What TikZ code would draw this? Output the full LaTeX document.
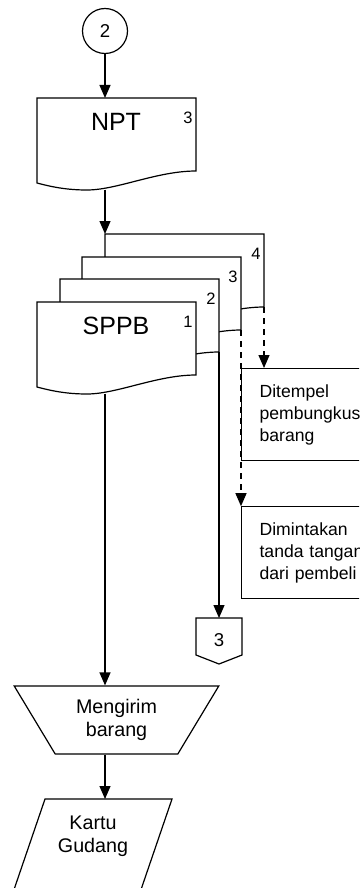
\documentclass[tikz,border=0pt]{standalone}
\usepackage{fontspec}
\setmainfont{Liberation Sans}
\usetikzlibrary{positioning, arrows.meta, shapes.geometric, calc}
\tikzset{
  % Lines and arrows
  flowline/.style={line width=1.2pt},
  flowarrow/.style={
    ->, line width=1.2pt, >={Triangle[length=13pt, width=11pt]}
  },
  copyarrow/.style={
    flowarrow, dash pattern=on 6pt off 5pt
  },
  % Document pages
  docline/.style={line width=1.2pt, fill=white},
  doctitle/.style={font=\fontsize{25}{28}\selectfont},
  copyno/.style={inner sep=0pt, font=\fontsize{16.5}{18}\selectfont},
  % Symbols
  connector/.style={
    draw, circle, line width=1.2pt, minimum size=45pt,
    inner sep=0pt, font=\fontsize{18.6}{20}\selectfont
  },
  manualop/.style={
    draw, trapezium, shape border rotate=180,
    trapezium angle=58.6, trapezium stretches=true,
    minimum width=205pt, minimum height=68pt,
    line width=1.2pt, align=center, font=\fontsize{19.7}{23}\selectfont
  },
  cardtext/.style={align=center, font=\fontsize{19.7}{23}\selectfont},
  notebox/.style={
    draw, rectangle, fill=white, line width=1.2pt,
    align=left, text width=117pt, inner xsep=18pt,
    minimum height=92pt, font=\fontsize{17.6}{22}\selectfont
  },
}
\newcommand{\docpage}[4]{%
  \begin{scope}[shift={(#2)}]
    \draw[docline] (0,0) -- (159,0) -- (159,73)
      .. controls (120,73) and (80,92) .. (50,92)
      .. controls (30,92) and (15,89) .. (0,85) -- cycle;   % wavy bottom
    \node[doctitle] at (79,24) {#3};
    \node[copyno] at (151,20) {#4};
    \coordinate (#1) at (68,0);
    \coordinate (#1-corner) at (0,0);
    \coordinate (#1-out) at (68,91.5);
    \coordinate (#1-copy) at (159,73);
  \end{scope}
}
\newcommand{\offpage}[3]{%
  \begin{scope}[shift={(#2)}]
    \draw[flowline] (-23,0) -- (23,0) -- (23,37) -- (0,46) -- (-23,37) -- cycle;
    \node[font=\fontsize{18.6}{20}\selectfont] at (0,22) {#3};
    \coordinate (#1) at (0,0);
  \end{scope}
}

\begin{document}
\begin{tikzpicture}[x=1pt, y=-1pt]

  \useasboundingbox (0,0) rectangle (359,888);
  \clip (0,0) rectangle (359,888);

  %% ── Connector and NPT ──
  \node[connector] (con2) at (105,31) {2};
  \docpage{npt}{37,98}{NPT}{3}

  %% ── SPPB copies (back to front) ──
  \docpage{sppb4}{105,234}{}{4}
  \docpage{sppb3}{82,257}{}{3}
  \docpage{sppb2}{60,279}{}{2}
  \docpage{sppb}{37,302}{SPPB}{1}

  %% ── Notes ──
  \node[notebox, anchor=north west] (tempel) at (241,368)
    {Ditempel\\pembungkus\\barang};
  \node[notebox, below=45pt of tempel] (minta)
    {Dimintakan\\tanda tangan\\dari pembeli};

  \offpage{con3}{219,618}{3}

  %% ── Process ──
  \node[manualop] (kirim) at (116.5,720) {Mengirim\\barang};
  \node[cardtext] (kartu) at (93,836) {Kartu\\Gudang};
  \draw[flowline] ($(kartu)+(-48,-37)$) -- ($(kartu)+(79,-37)$)
    -- ($(kartu)+(40,77)$) -- ($(kartu)+(-87,77)$) -- cycle;
  \coordinate (kartu-top) at ($(kartu)+(0,-37)$);

  %% ── Flows ──
  \draw[flowarrow] (con2) -- (npt);
  \draw[flowarrow] (npt-out) -- (sppb4-corner);
  \draw[copyarrow] (sppb4-copy) -- (sppb4-copy |- tempel.north);
  \draw[copyarrow] (sppb3-copy) -- (sppb3-copy |- minta.north);
  \draw[flowarrow] (sppb2-copy) -- (con3);
  \draw[flowarrow] (sppb-out) -- (sppb-out |- kirim.north);
  \draw[flowarrow] (kirim.south -| sppb-out) -- (sppb-out |- kartu-top);

\end{tikzpicture}
\end{document}
